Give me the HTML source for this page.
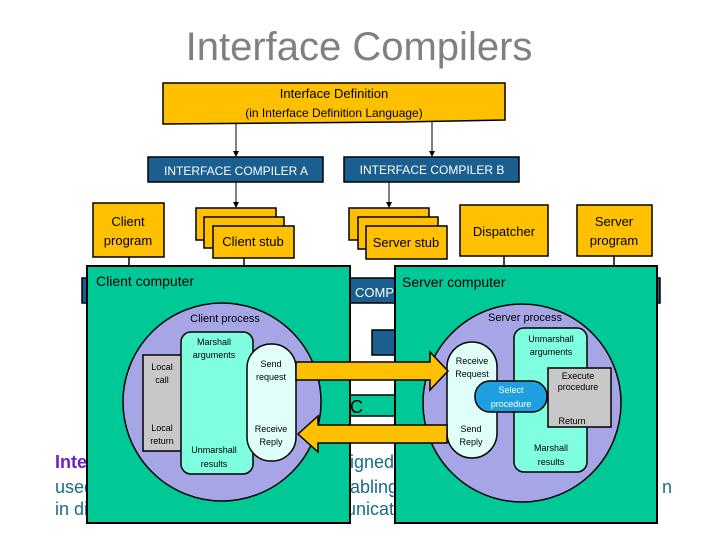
<!DOCTYPE html>
<html><head><meta charset="utf-8"><style>
body{margin:0;background:#fff;width:720px;height:540px;overflow:hidden}
svg text{font-family:"Liberation Sans",sans-serif}
</style></head><body>
<svg width="720" height="540" viewBox="0 0 720 540">
<defs><marker id="a" markerWidth="6" markerHeight="6" refX="5" refY="3" orient="auto"><path d="M0,0 L6,3 L0,6z" fill="#000"/></marker></defs>
<text x="359" y="60" font-size="40" fill="#808080" text-anchor="middle">Interface Compilers</text>
<!-- background text -->
<g font-family="DejaVu Sans" font-size="18">
<text x="55" y="468" fill="#7020c0" font-weight="bold">Interface</text>
<text x="350" y="468" fill="#1a6a8a">igned</text>
<text x="55" y="493" fill="#1a6a8a">used</text>
<text x="350" y="493" fill="#1a6a8a">abling</text>
<text x="55" y="515" fill="#1a6a8a">in diff</text>
<text x="346" y="515" fill="#1a6a8a">unicat</text>
<text x="662" y="493" fill="#1a6a8a">n</text>
</g>
<!-- IDL box -->
<path d="M163,83 L505,83 L505,120 L400,122 L163,124 Z" fill="#ffc000" stroke="#000" stroke-width="1.5"/>
<text x="334" y="98" font-size="13" text-anchor="middle">Interface Definition</text>
<text x="334" y="117" font-size="12" text-anchor="middle">(in Interface Definition Language)</text>
<line x1="236" y1="123" x2="236" y2="156" stroke="#000" marker-end="url(#a)"/>
<line x1="432" y1="121" x2="432" y2="156" stroke="#000" marker-end="url(#a)"/>
<rect x="148" y="157" width="175" height="25" fill="#1a5f8f" stroke="#000" stroke-width="1.5"/>
<text x="236" y="175" font-size="12" fill="#fff" text-anchor="middle">INTERFACE COMPILER A</text>
<rect x="344" y="157" width="175" height="25" fill="#1a5f8f" stroke="#000" stroke-width="1.5"/>
<text x="432" y="174" font-size="12" fill="#fff" text-anchor="middle">INTERFACE COMPILER B</text>
<line x1="236" y1="182" x2="236" y2="207" stroke="#000" marker-end="url(#a)"/>
<line x1="389" y1="182" x2="389" y2="207" stroke="#000" marker-end="url(#a)"/>
<g fill="#ffc000" stroke="#000" stroke-width="1.5">
<rect x="93" y="203" width="71" height="54"/>
<rect x="196" y="208" width="80" height="32"/><rect x="204" y="217" width="80" height="31"/><rect x="213" y="226" width="81" height="32"/>
<rect x="349" y="208" width="80" height="32"/><rect x="358" y="217" width="80" height="32"/><rect x="366" y="226" width="81" height="33"/>
<rect x="460" y="205" width="88" height="51"/>
<rect x="577" y="205" width="75" height="51"/>
</g>
<g font-size="13" text-anchor="middle">
<text x="128" y="226">Client</text><text x="128" y="245">program</text>
<text x="253" y="246">Client stub</text>
<text x="406" y="247">Server stub</text>
<text x="504" y="236">Dispatcher</text>
<text x="614" y="226">Server</text><text x="614" y="245">program</text>
</g>
<g stroke="#000" stroke-width="1.5">
<line x1="129" y1="257" x2="129" y2="266"/><line x1="244" y1="258" x2="244" y2="266"/>
<line x1="504" y1="256" x2="504" y2="266"/><line x1="614" y1="256" x2="614" y2="266"/>
</g>
<!-- background strips -->
<rect x="82" y="278" width="578" height="25" fill="#1a5f8f" stroke="#000" stroke-width="1.5"/>
<text x="355" y="297" font-size="13" fill="#fff">COMPILER</text>
<rect x="372" y="330" width="30" height="25" fill="#1a5f8f" stroke="#000" stroke-width="1.5"/>
<rect x="340" y="395" width="60" height="21" fill="#00c896" stroke="#000" stroke-width="1.5"/>
<text x="338" y="413" font-size="18">PC</text>
<!-- computers -->
<rect x="87" y="266" width="263" height="257" fill="#00c896" stroke="#000" stroke-width="2"/>
<text x="96" y="286" font-size="14">Client computer</text>
<rect x="395" y="266" width="262" height="257" fill="#00c896" stroke="#000" stroke-width="2"/>
<text x="402" y="287" font-size="14">Server computer</text>
<!-- client process -->
<ellipse cx="222" cy="402" rx="99" ry="99" fill="#a6a6e6" stroke="#000" stroke-width="1.5"/>
<text x="225" y="322" font-size="11" text-anchor="middle">Client process</text>
<rect x="143" y="355" width="40" height="96" fill="#c8c8c8" stroke="#000" stroke-width="1.5"/>
<rect x="181" y="332" width="72" height="142" rx="10" fill="#80ffe0" stroke="#000" stroke-width="1.5"/>
<rect x="247" y="344" width="49" height="117" rx="24" fill="#e0fff8" stroke="#000" stroke-width="1.5"/>
<g font-size="9" text-anchor="middle">
<text x="162" y="370">Local</text><text x="162" y="383">call</text>
<text x="162" y="431">Local</text><text x="162" y="444">return</text>
<text x="214" y="345">Marshall</text><text x="214" y="358">arguments</text>
<text x="214" y="453">Unmarshall</text><text x="214" y="467">results</text>
<text x="271" y="367">Send</text><text x="271" y="380">request</text>
<text x="271" y="432">Receive</text><text x="271" y="445">Reply</text>
</g>
<!-- server process -->
<ellipse cx="522" cy="403" rx="99" ry="99" fill="#a6a6e6" stroke="#000" stroke-width="1.5"/>
<text x="525" y="321" font-size="11" text-anchor="middle">Server process</text>
<rect x="514" y="328" width="73" height="144" rx="10" fill="#80ffe0" stroke="#000" stroke-width="1.5"/>
<rect x="548" y="368" width="63" height="59" fill="#c8c8c8" stroke="#000" stroke-width="1.5"/>
<rect x="447" y="342" width="50" height="116" rx="25" fill="#e0fff8" stroke="#000" stroke-width="1.5"/>
<rect x="475" y="381" width="72" height="31" rx="15" fill="#1ea0e0" stroke="#000" stroke-width="1.5"/>
<g font-size="9" text-anchor="middle">
<text x="551" y="342">Unmarshall</text><text x="551" y="355">arguments</text>
<text x="578" y="379">Execute</text><text x="578" y="390">procedure</text>
<text x="572" y="424">Return</text>
<text x="551" y="451">Marshall</text><text x="551" y="465">results</text>
<text x="472" y="364">Receive</text><text x="472" y="377">Request</text>
<text x="471" y="432">Send</text><text x="471" y="445">Reply</text>
<text x="511" y="393" fill="#fff">Select</text><text x="511" y="407" fill="#fff">procedure</text>
</g>
<!-- arrows -->
<path d="M296,362 L430,362 L430,352 L448,371 L430,390 L430,380 L296,380 Z" fill="#ffc000" stroke="#000" stroke-width="1.5"/>
<path d="M447,425 L318,425 L318,416 L298,434 L318,452 L318,443 L447,443 Z" fill="#ffc000" stroke="#000" stroke-width="1.5"/>
</svg>
</body></html>
